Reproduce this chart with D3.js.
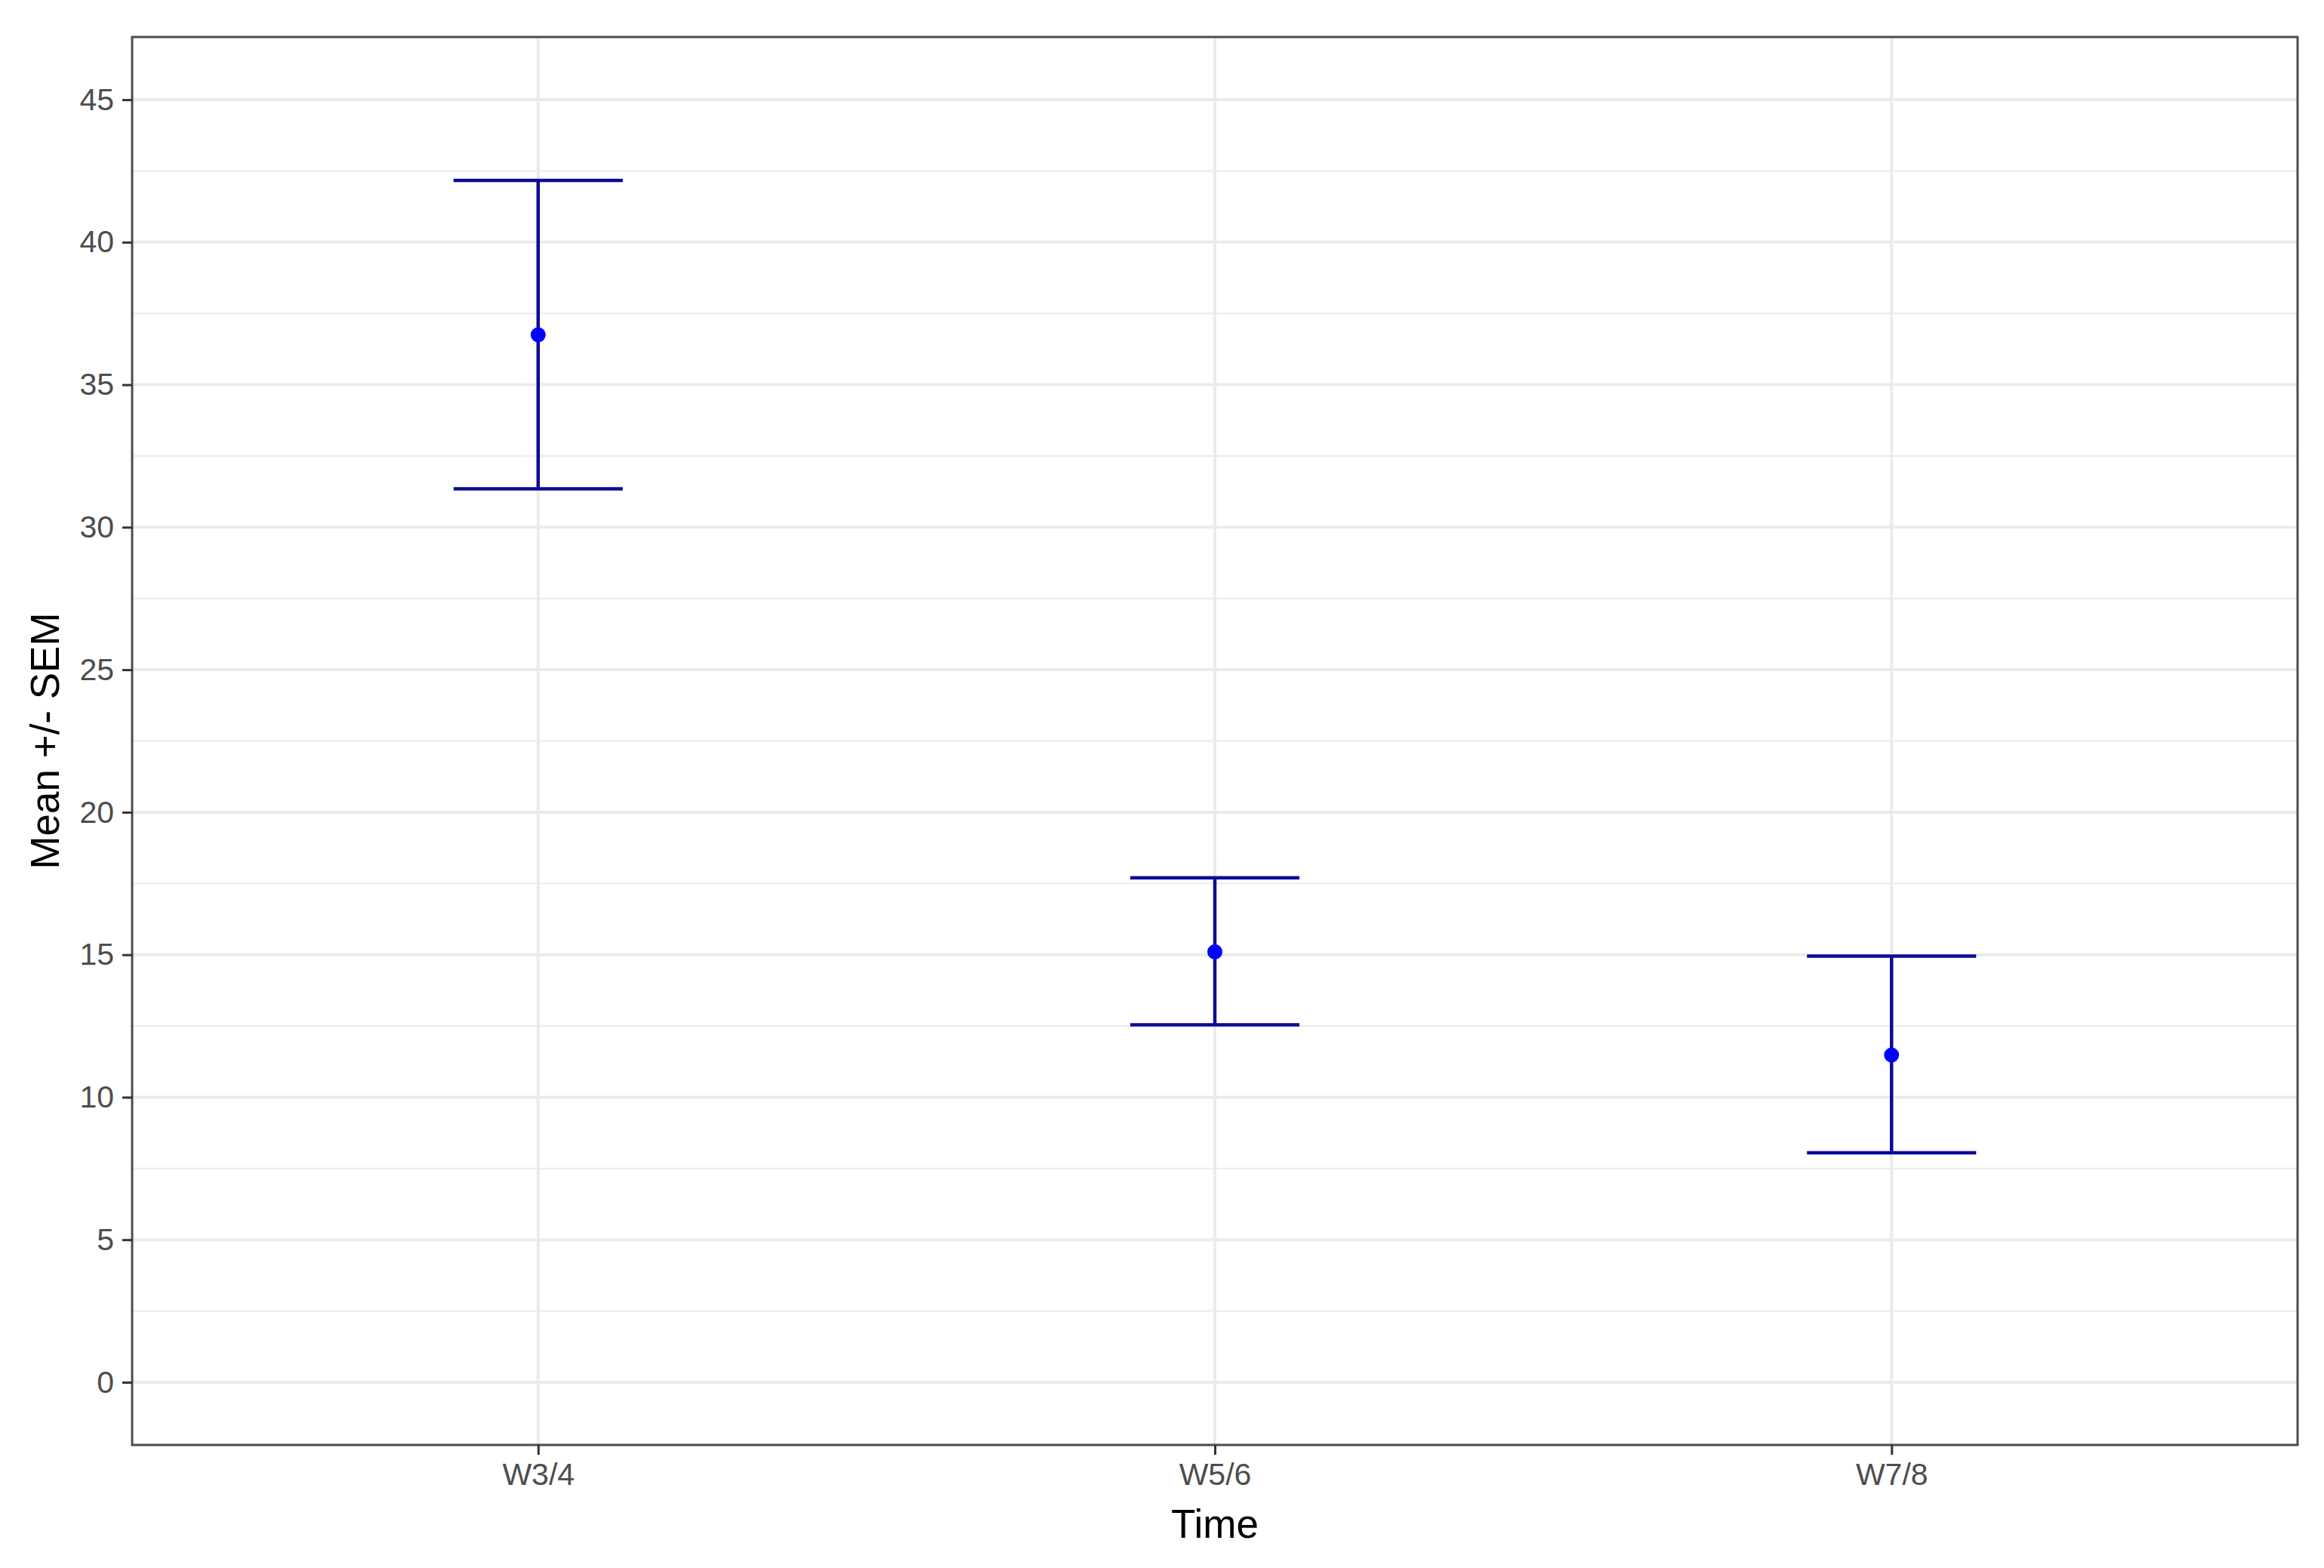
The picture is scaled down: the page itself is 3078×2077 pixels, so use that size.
<!DOCTYPE html>
<html>
<head>
<meta charset="utf-8">
<script src="https://cdn.jsdelivr.net/npm/d3@7"></script>
<style>
  body { margin: 0; background: #fff; }
  text { font-family: "Liberation Sans", Arial, sans-serif; }
</style>
</head>
<body>
<div id="chart"></div>
<script>
// data
const times = ["W3/4", "W5/6", "W7/8"];
const means = [36.75, 15.1, 11.48];
const lower = [31.35, 12.54, 8.05];
const upper = [42.17, 17.7, 14.95];
const yTicks = [0, 5, 10, 15, 20, 25, 30, 35, 40, 45];
const yMinor = [2.5, 7.5, 12.5, 17.5, 22.5, 27.5, 32.5, 37.5, 42.5];

const W = 3078, H = 2077;
const margin = { top: 49, right: 35, bottom: 163, left: 175 };

const svg = d3.select("#chart").append("svg")
  .attr("width", W).attr("height", H);

const x = d3.scaleLinear()
  .domain([0.4, 3.6])
  .range([margin.left, W - margin.right]);
const y = d3.scaleLinear()
  .domain([-2.2, 47.2])
  .range([H - margin.bottom, margin.top]);

const grid = svg.append("g");
// minor grid
grid.selectAll(".minor").data(yMinor).enter().append("line")
  .attr("x1", x(0.4)).attr("x2", x(3.6))
  .attr("y1", d => y(d)).attr("y2", d => y(d))
  .attr("stroke", "#ebebeb").attr("stroke-width", 2);
// major grid
grid.selectAll(".major").data(yTicks).enter().append("line")
  .attr("x1", x(0.4)).attr("x2", x(3.6))
  .attr("y1", d => y(d)).attr("y2", d => y(d))
  .attr("stroke", "#ebebeb").attr("stroke-width", 4);
grid.selectAll(".vmajor").data(times).enter().append("line")
  .attr("x1", (d, i) => x(i + 1)).attr("x2", (d, i) => x(i + 1))
  .attr("y1", y.range()[0]).attr("y2", y.range()[1])
  .attr("stroke", "#ebebeb").attr("stroke-width", 4);

// error bars
const data = times.map((t, i) => ({ t, i: i + 1, m: means[i], lo: lower[i], hi: upper[i] }));
const bars = svg.append("g").attr("stroke", "#0b0b96").attr("stroke-width", 4.5).attr("fill", "none");
const half = 0.125;
data.forEach(d => {
  bars.append("line").attr("x1", x(d.i)).attr("x2", x(d.i)).attr("y1", y(d.lo)).attr("y2", y(d.hi));
  bars.append("line").attr("x1", x(d.i - half)).attr("x2", x(d.i + half)).attr("y1", y(d.lo)).attr("y2", y(d.lo));
  bars.append("line").attr("x1", x(d.i - half)).attr("x2", x(d.i + half)).attr("y1", y(d.hi)).attr("y2", y(d.hi));
});

svg.append("g").selectAll("circle").data(data).enter().append("circle")
  .attr("cx", d => x(d.i)).attr("cy", d => y(d.m))
  .attr("r", 10).attr("fill", "#0000ff");

// panel border
svg.append("rect")
  .attr("x", x(0.4)).attr("y", y(47.2))
  .attr("width", x(3.6) - x(0.4)).attr("height", y(-2.2) - y(47.2))
  .attr("fill", "none").attr("stroke", "#4d4d4d").attr("stroke-width", 3);

// axes
const yAxis = svg.append("g")
  .attr("transform", `translate(${margin.left},0)`)
  .call(d3.axisLeft(y).tickValues(yTicks).tickSize(13).tickPadding(11));
const xAxis = svg.append("g")
  .attr("transform", `translate(0,${H - margin.bottom})`)
  .call(d3.axisBottom(x).tickValues([1, 2, 3]).tickFormat((d) => times[d - 1]).tickSize(13).tickPadding(11));

[yAxis, xAxis].forEach(a => {
  a.select(".domain").remove();
  a.selectAll(".tick line").attr("stroke", "#333").attr("stroke-width", 3);
  a.selectAll(".tick text").attr("fill", "#4d4d4d").attr("font-size", 41)
    .style("font-family", "'Liberation Sans', Arial, sans-serif");
});

// axis titles
svg.append("text")
  .attr("x", (x(0.4) + x(3.6)) / 2).attr("y", 2037)
  .attr("text-anchor", "middle").attr("font-size", 53).attr("fill", "#000")
  .text("Time");
svg.append("text")
  .attr("transform", `translate(78,${(y(47.2) + y(-2.2)) / 2}) rotate(-90)`)
  .attr("text-anchor", "middle").attr("font-size", 53).attr("fill", "#000")
  .text("Mean +/- SEM");
</script>
</body>
</html>
